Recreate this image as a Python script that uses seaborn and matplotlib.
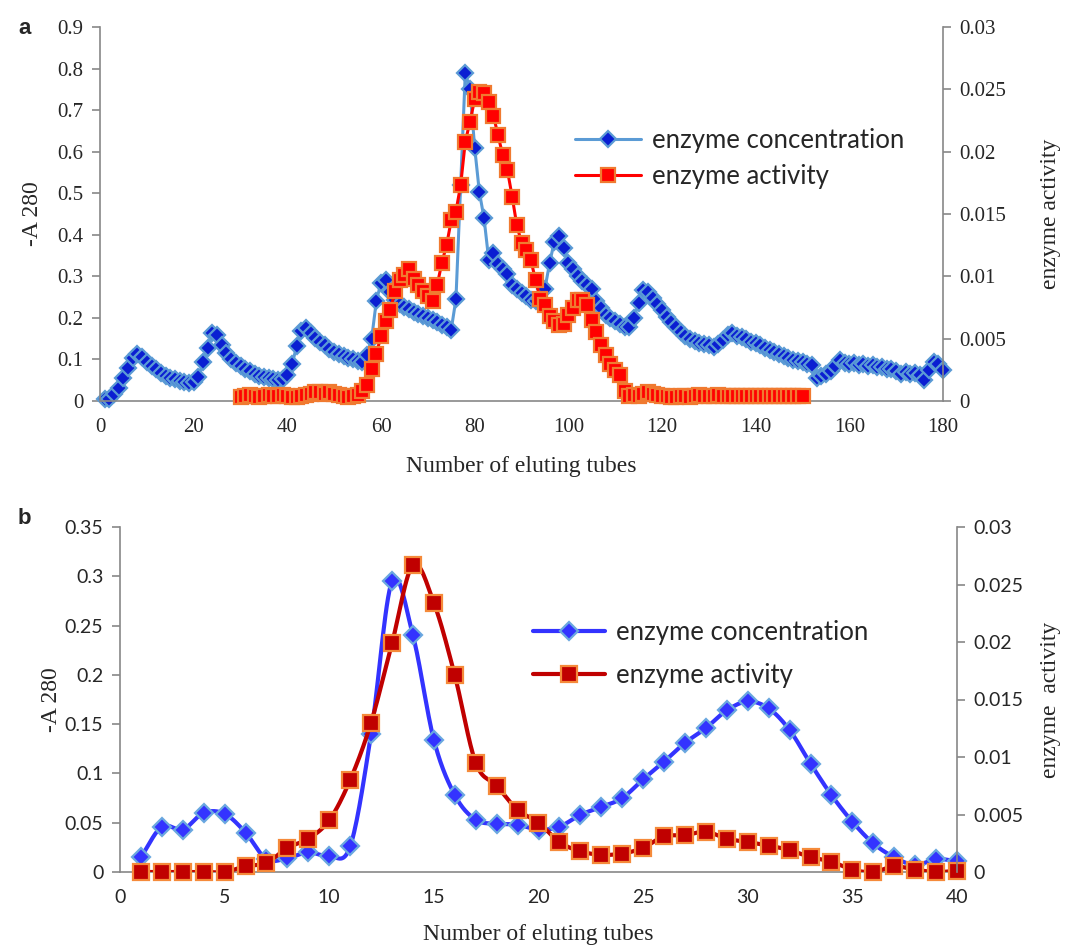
import numpy as np
import pandas as pd
import seaborn as sns
import matplotlib.pyplot as plt
from matplotlib.lines import Line2D
from matplotlib.ticker import FuncFormatter, MultipleLocator

# ---- panel a data (tube number, A280, enzyme activity) ----
tubes_a = list(range(1, 181))
conc_a = [
    0.006, 0.006, 0.018, 0.032, 0.055, 0.080, 0.103, 0.113, 0.105, 0.095,
    0.085, 0.076, 0.068, 0.061, 0.056, 0.052, 0.048, 0.046, 0.044, 0.046,
    0.058, 0.094, 0.127, 0.163, 0.160, 0.135, 0.115, 0.102, 0.092, 0.084,
    0.077, 0.071, 0.065, 0.061, 0.058, 0.055, 0.053, 0.051, 0.052, 0.063,
    0.088, 0.132, 0.168, 0.176, 0.163, 0.152, 0.142, 0.134, 0.126, 0.119,
    0.113, 0.108, 0.104, 0.100, 0.096, 0.094, 0.110, 0.150, 0.240, 0.285,
    0.290, 0.262, 0.243, 0.233, 0.226, 0.221, 0.215, 0.209, 0.204, 0.199,
    0.194, 0.189, 0.184, 0.178, 0.172, 0.245, 0.520, 0.790, 0.750, 0.610,
    0.503, 0.440, 0.340, 0.356, 0.330, 0.318, 0.305, 0.280, 0.270, 0.260,
    0.252, 0.244, 0.240, 0.245, 0.270, 0.332, 0.383, 0.398, 0.367, 0.333,
    0.318, 0.300, 0.288, 0.278, 0.270, 0.240, 0.225, 0.208, 0.200, 0.192,
    0.185, 0.177, 0.178, 0.200, 0.235, 0.267, 0.263, 0.248, 0.233, 0.218,
    0.203, 0.190, 0.179, 0.167, 0.157, 0.150, 0.144, 0.139, 0.137, 0.135,
    0.131, 0.137, 0.147, 0.160, 0.163, 0.157, 0.153, 0.148, 0.143, 0.139,
    0.134, 0.128, 0.122, 0.118, 0.113, 0.108, 0.104, 0.099, 0.096, 0.093,
    0.089, 0.087, 0.055, 0.060, 0.065, 0.073, 0.085, 0.098, 0.092, 0.089,
    0.091, 0.086, 0.088, 0.084, 0.086, 0.081, 0.083, 0.078, 0.076, 0.072,
    0.065, 0.069, 0.064, 0.067, 0.063, 0.050, 0.075, 0.094, 0.090, 0.075,
]
tubes_act_a = list(range(30, 151))
act_a = [
    0.0003, 0.0004, 0.0005, 0.0004, 0.0003, 0.0004, 0.0005, 0.0004, 0.0004, 0.0005,
    0.0004, 0.0003, 0.0003, 0.0004, 0.0005, 0.0006, 0.0007, 0.0007, 0.0006, 0.0007,
    0.0006, 0.0005, 0.0004, 0.0003, 0.0004, 0.0005, 0.0008, 0.0013, 0.0026, 0.0038,
    0.0052, 0.0064, 0.0073, 0.0088, 0.0097, 0.0101, 0.0106, 0.0098, 0.0093, 0.0088,
    0.0084, 0.0080, 0.0093, 0.0111, 0.0125, 0.0145, 0.0152, 0.0173, 0.0208, 0.0224,
    0.0242, 0.0248, 0.0247, 0.0240, 0.0229, 0.0213, 0.0197, 0.0185, 0.0164, 0.0141,
    0.0127, 0.0121, 0.0113, 0.0097, 0.0082, 0.0077, 0.0068, 0.0064, 0.0061, 0.0062,
    0.0069, 0.0075, 0.0081, 0.0081, 0.0077, 0.0065, 0.0055, 0.0045, 0.0037, 0.0030,
    0.0025, 0.0021, 0.0008, 0.0004, 0.0005, 0.0004, 0.0006, 0.0007, 0.0006, 0.0005,
    0.0004, 0.0004, 0.0003, 0.0003, 0.0004, 0.0004, 0.0003, 0.0004, 0.0005, 0.0004,
    0.0004, 0.0004, 0.0005, 0.0004, 0.0004, 0.0004, 0.0004, 0.0004, 0.0004, 0.0004,
    0.0004, 0.0004, 0.0004, 0.0004, 0.0004, 0.0004, 0.0004, 0.0004, 0.0004, 0.0004,
    0.0004,
]

# ---- panel b data ----
tubes_b = list(range(1, 41))
conc_b = [
    0.015, 0.046, 0.043, 0.060, 0.059, 0.040, 0.013, 0.014, 0.020, 0.016,
    0.026, 0.140, 0.295, 0.240, 0.134, 0.078, 0.053, 0.049, 0.048, 0.043,
    0.046, 0.058, 0.066, 0.075, 0.094, 0.112, 0.131, 0.146, 0.164, 0.173,
    0.166, 0.144, 0.110, 0.078, 0.051, 0.029, 0.015, 0.007, 0.013, 0.011,
]
act_b = [
    0.0000, 0.0000, 0.0000, 0.0000, 0.0000, 0.0005, 0.0008, 0.0021, 0.0029, 0.0045,
    0.0080, 0.0130, 0.0199, 0.0267, 0.0234, 0.0171, 0.0095, 0.0075, 0.0054, 0.0043,
    0.0026, 0.0018, 0.0015, 0.0016, 0.0021, 0.0031, 0.0032, 0.0035, 0.0029, 0.0026,
    0.0023, 0.0019, 0.0013, 0.0009, 0.0002, 0.0000, 0.0005, 0.0002, 0.0000, 0.0001,
]

labels = ['enzyme concentration', 'enzyme activity']

SERIF = 'Liberation Serif'
SANS = 'Lato'
GREY = '#878787'


def smooth(x, y, n=16):
    # Catmull-Rom curve through the points (like Excel "smoothed line")
    x = np.asarray(x, float)
    y = np.asarray(y, float)
    px = np.concatenate([[2 * x[0] - x[1]], x, [2 * x[-1] - x[-2]]])
    py = np.concatenate([[2 * y[0] - y[1]], y, [2 * y[-1] - y[-2]]])
    t = np.linspace(0, 1, n, endpoint=False)
    xs, ys = [], []
    for i in range(len(x) - 1):
        for p, out in ((px, xs), (py, ys)):
            p0, p1, p2, p3 = p[i:i + 4]
            out.append(0.5 * (2 * p1 + (-p0 + p2) * t
                              + (2 * p0 - 5 * p1 + 4 * p2 - p3) * t ** 2
                              + (-p0 + 3 * p1 - 3 * p2 + p3) * t ** 3))
    xs.append([x[-1]])
    ys.append([y[-1]])
    return np.concatenate(xs), np.concatenate(ys)


def style_axes(ax, ax2, tickfont, size):
    for s in ['top', 'right']:
        ax.spines[s].set_visible(False)
    for s in ['top', 'left', 'bottom']:
        ax2.spines[s].set_visible(False)
    for sp in [ax.spines['left'], ax.spines['bottom'], ax2.spines['right']]:
        sp.set_color(GREY)
        sp.set_linewidth(1.2)
    for a in [ax, ax2]:
        a.tick_params(direction='out', length=6, width=1.2, color=GREY,
                      labelsize=size, pad=6)
        for lab in a.get_xticklabels() + a.get_yticklabels():
            lab.set_family(tickfont)
    ax.grid(False)
    ax2.grid(False)


fmt = FuncFormatter(lambda v, p: f'{round(v, 4):g}')

sns.set_style('white')
plt.rcParams['font.family'] = [SERIF, 'DejaVu Serif']

fig = plt.figure(figsize=(10.65, 9.52), dpi=100)

# ================= panel a =================
ax = fig.add_axes([100 / 1065, 1 - 401 / 952, 843 / 1065, 374 / 952])
ax2 = ax.twinx()

sns.lineplot(x=tubes_a, y=conc_a, ax=ax, color='#5B9BD5', lw=2.2,
             marker='D', markersize=8, markerfacecolor='#0A1ED2',
             markeredgecolor='#5B9BD5', markeredgewidth=1.6, clip_on=False)
sns.lineplot(x=tubes_act_a, y=act_a, ax=ax2, color='#FF0000', lw=2.2,
             marker='s', markersize=10, markerfacecolor='#FF0000',
             markeredgecolor='#F07A30', markeredgewidth=1.6, clip_on=False)

ax.set_xlim(0, 180)
ax.set_ylim(0, 0.9)
ax2.set_ylim(0, 0.03)
ax.xaxis.set_major_locator(MultipleLocator(20))
ax.yaxis.set_major_locator(MultipleLocator(0.1))
ax2.yaxis.set_major_locator(MultipleLocator(0.005))
ax.yaxis.set_major_formatter(fmt)
ax2.yaxis.set_major_formatter(fmt)
style_axes(ax, ax2, SERIF, 15)
ax.set_xlabel('Number of eluting tubes', fontsize=17, family=SERIF, labelpad=14)
ax.set_ylabel('-A 280', fontsize=17, family=SERIF, labelpad=10)
ax2.set_ylabel('enzyme activity', fontsize=17, family=SERIF, labelpad=24)

h_a = [Line2D([], [], color='#5B9BD5', lw=2.2, marker='D', markersize=8,
              markerfacecolor='#0A1ED2', markeredgecolor='#5B9BD5', markeredgewidth=1.6),
       Line2D([], [], color='#FF0000', lw=2.2, marker='s', markersize=10,
              markerfacecolor='#FF0000', markeredgecolor='#F07A30', markeredgewidth=1.6)]
ax2.legend(h_a, labels, loc='upper left', bbox_to_anchor=(0.563, 0.731),
           frameon=False, prop={'family': SANS, 'size': 18.5},
           handlelength=2.6, handletextpad=0.4, labelspacing=0.45,
           borderaxespad=0, borderpad=0)

# ================= panel b =================
bx = fig.add_axes([120 / 1065, 1 - 872 / 952, 837 / 1065, 345 / 952])
bx2 = bx.twinx()

xs, ys = smooth(tubes_b, conc_b)
sns.lineplot(x=xs, y=ys, ax=bx, color='#3333FF', lw=3, sort=False, estimator=None)
sns.lineplot(x=tubes_b, y=conc_b, ax=bx, color='#3333FF', lw=0, marker='D',
             markersize=9, markerfacecolor='#3333FF', markeredgecolor='#6AA8E0',
             markeredgewidth=1.6, clip_on=False)
xs, ys = smooth(tubes_b, act_b)
sns.lineplot(x=xs, y=ys, ax=bx2, color='#C00000', lw=3, sort=False, estimator=None)
sns.lineplot(x=tubes_b, y=act_b, ax=bx2, color='#C00000', lw=0, marker='s',
             markersize=11, markerfacecolor='#C00000', markeredgecolor='#F58A3A',
             markeredgewidth=1.6, clip_on=False)

bx.set_xlim(0, 40)
bx.set_ylim(0, 0.35)
bx2.set_ylim(0, 0.03)
bx.xaxis.set_major_locator(MultipleLocator(5))
bx.yaxis.set_major_locator(MultipleLocator(0.05))
bx2.yaxis.set_major_locator(MultipleLocator(0.005))
bx.yaxis.set_major_formatter(fmt)
bx2.yaxis.set_major_formatter(fmt)
style_axes(bx, bx2, SANS, 14)
bx.set_xlabel('Number of eluting tubes', fontsize=17, family=SERIF, labelpad=13)
bx.set_ylabel('-A 280', fontsize=17, family=SERIF, labelpad=2)
bx2.set_ylabel('enzyme  activity', fontsize=17, family=SERIF, labelpad=12)

h_b = [Line2D([], [], color='#3333FF', lw=3, marker='D', markersize=9,
              markerfacecolor='#3333FF', markeredgecolor='#6AA8E0', markeredgewidth=1.6),
       Line2D([], [], color='#C00000', lw=3, marker='s', markersize=11,
              markerfacecolor='#C00000', markeredgecolor='#F58A3A', markeredgewidth=1.6)]
bx2.legend(h_b, labels, loc='upper left', bbox_to_anchor=(0.494, 0.731),
           frameon=False, prop={'family': SANS, 'size': 18.5},
           handlelength=2.8, handletextpad=0.4, labelspacing=0.7,
           borderaxespad=0, borderpad=0)

fig.text(18 / 1065, 1 - 28 / 952, 'a', fontsize=16, fontweight='bold',
         family='Liberation Sans', va='center', ha='left')
fig.text(18 / 1065, 1 - 519 / 952, 'b', fontsize=16, fontweight='bold',
         family='Liberation Sans', va='center', ha='left')

plt.savefig('out.png', dpi=100)
